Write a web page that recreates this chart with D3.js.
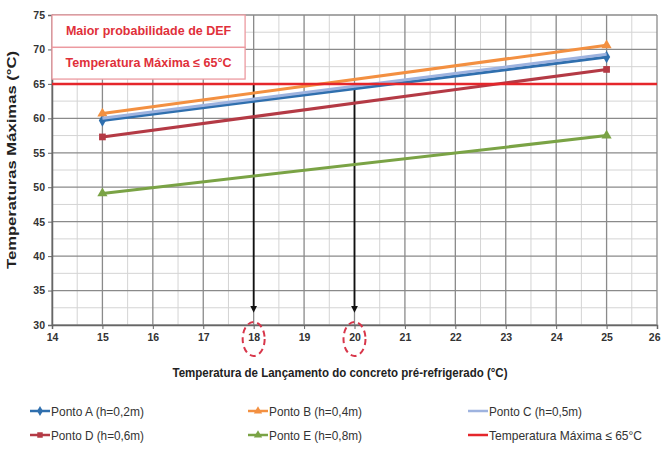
<!DOCTYPE html>
<html>
<head>
<meta charset="utf-8">
<script src="https://cdn.jsdelivr.net/npm/d3@7"></script>
<style>
  body { margin: 0; background: #fff; }
  svg { display: block; font-family: "Liberation Sans Narrow", "Arial Narrow", "Liberation Sans", sans-serif; }
  .tick text { font-weight: bold; fill: #333; }
</style>
</head>
<body>
<svg id="chart" width="661" height="449"></svg>
<script>
// launch temperatures with simulated results
var xs = [15, 25];
var pontoA = [59.7, 68.9];
var pontoB = [60.7, 70.6];
var pontoC = [60.0, 69.3];
var pontoD = [57.3, 67.1];
var pontoE = [49.1, 57.5];
var limiteX = [14, 26];
var limite = [65, 65];
var setas = [18, 20];
var xTicks = [14, 15, 16, 17, 18, 19, 20, 21, 22, 23, 24, 25, 26];
var yTicks = [30, 35, 40, 45, 50, 55, 60, 65, 70, 75];

var series = [
  { name: 'Ponto A (h=0,2m)', vals: pontoA, color: '#2f6fae', marker: 'diamond' },
  { name: 'Ponto B (h=0,4m)', vals: pontoB, color: '#f39041', marker: 'triangle' },
  { name: 'Ponto C (h=0,5m)', vals: pontoC, color: '#9eb3df', marker: 'none' },
  { name: 'Ponto D (h=0,6m)', vals: pontoD, color: '#b43a45', marker: 'square' },
  { name: 'Ponto E (h=0,8m)', vals: pontoE, color: '#7aa345', marker: 'triangle' },
  { name: 'Temperatura Máxima ≤ 65°C', vals: limite, color: '#e5262b', marker: 'none', xv: limiteX }
];

var svg = d3.select('#chart');
var mL = 52, mR = 657, mT = 15, mB = 325;

var x = d3.scaleLinear().domain([14, 26]).range([mL, mR]);
var y = d3.scaleLinear().domain([30, 75]).range([mB, mT]);

function symOf(m) {
  return m === 'diamond' ? d3.symbolDiamond : m === 'square' ? d3.symbolSquare : d3.symbolTriangle;
}

// minor grid
var g = svg.append('g');
g.selectAll('.vmin').data(d3.range(14.5, 26, 1)).enter().append('line')
  .attr('x1', d => x(d)).attr('x2', d => x(d)).attr('y1', mT).attr('y2', mB)
  .attr('stroke', '#d4d4d4').attr('stroke-width', 1);
g.selectAll('.hmin').data(d3.range(32.5, 75, 5)).enter().append('line')
  .attr('x1', mL).attr('x2', mR).attr('y1', d => y(d)).attr('y2', d => y(d))
  .attr('stroke', '#d4d4d4').attr('stroke-width', 1);
// major grid
g.selectAll('.vmaj').data(xTicks).enter().append('line')
  .attr('x1', d => x(d)).attr('x2', d => x(d)).attr('y1', mT).attr('y2', mB)
  .attr('stroke', '#8a8a8a').attr('stroke-width', 1.3);
g.selectAll('.hmaj').data(yTicks).enter().append('line')
  .attr('x1', mL).attr('x2', mR).attr('y1', d => y(d)).attr('y2', d => y(d))
  .attr('stroke', '#8a8a8a').attr('stroke-width', 1.3);

// axes
var xAxis = svg.append('g').attr('transform', 'translate(0,' + mB + ')')
  .call(d3.axisBottom(x).tickValues(xTicks).tickSize(4).tickFormat(d3.format('d')));
var yAxis = svg.append('g').attr('transform', 'translate(' + mL + ',0)')
  .call(d3.axisLeft(y).tickValues(yTicks).tickSize(4).tickFormat(d3.format('d')));
[xAxis, yAxis].forEach(function (a) {
  a.select('.domain').attr('stroke', '#666').attr('stroke-width', 1.5);
  a.selectAll('.tick line').attr('stroke', '#666');
  a.selectAll('.tick text').attr('font-size', 10.5);
});
xAxis.selectAll('.tick text').attr('dy', '0.9em');
xAxis.selectAll('.tick').filter(d => d === 26).select('text').attr('text-anchor', 'end').attr('dx', 3);

// annotation boxes
var boxes = [
  { text: 'Maior probabilidade de DEF', y0: 75, y1: 70.3 },
  { text: 'Temperatura Máxima ≤ 65°C', y0: 70.3, y1: 65.7 }
];
var bx = svg.append('g');
boxes.forEach(function (b) {
  bx.append('rect')
    .attr('x', x(14)).attr('y', y(b.y0))
    .attr('width', x(17.83) - x(14)).attr('height', y(b.y1) - y(b.y0))
    .attr('fill', '#fff').attr('stroke', '#ec9aa0').attr('stroke-width', 1.3);
  bx.append('text')
    .attr('x', (x(14) + x(17.83)) / 2).attr('y', (y(b.y0) + y(b.y1)) / 2 + 4)
    .attr('text-anchor', 'middle').attr('fill', '#e0303a')
    .attr('font-weight', 'bold').attr('font-size', 12.5)
    .style('font-family', '"Liberation Sans", sans-serif')
    .text(b.text);
});

// arrows from limit line down to axis
svg.append('defs').append('marker')
  .attr('id', 'head').attr('viewBox', '0 0 10 10').attr('refX', 5).attr('refY', 5)
  .attr('markerWidth', 4).attr('markerHeight', 4).attr('orient', 'auto')
  .append('path').attr('d', 'M0,0L10,5L0,10z').attr('fill', '#111');
svg.selectAll('.seta').data(setas).enter().append('line')
  .attr('x1', d => x(d)).attr('x2', d => x(d))
  .attr('y1', y(65)).attr('y2', y(32.3))
  .attr('stroke', '#111').attr('stroke-width', 1.8)
  .attr('marker-end', 'url(#head)');
svg.selectAll('.circ').data(setas).enter().append('ellipse')
  .attr('cx', d => x(d)).attr('cy', mB + 14).attr('rx', 11).attr('ry', 17)
  .attr('fill', 'none').attr('stroke', '#d8364a').attr('stroke-width', 2)
  .attr('stroke-dasharray', '6,4');

// series lines
var line = d3.line().x(d => x(d[0])).y(d => y(d[1]));
var plot = svg.append('g');
series.forEach(function (s) {
  var pts = (s.xv || xs).map((v, i) => [v, s.vals[i]]);
  plot.append('path').datum(pts).attr('d', line)
    .attr('fill', 'none').attr('stroke', s.color)
    .attr('stroke-width', s.xv ? 2.5 : 3);
  if (s.marker === 'none') return;
  plot.selectAll(null).data(pts).enter().append('path')
    .attr('d', d3.symbol().type(symOf(s.marker)).size(45))
    .attr('transform', d => 'translate(' + x(d[0]) + ',' + y(d[1]) + ')')
    .attr('fill', s.color);
});

// axis titles
svg.append('text')
  .attr('transform', 'translate(16,' + 160 + ') rotate(-90)')
  .attr('text-anchor', 'middle').attr('font-weight', 'bold').attr('font-size', 13.5)
  .attr('textLength', 218).attr('lengthAdjust', 'spacingAndGlyphs')
  .style('font-family', '"Liberation Sans", sans-serif').attr('fill', '#222')
  .text('Temperaturas Máximas (°C)');
svg.append('text')
  .attr('x', 340).attr('y', 377)
  .attr('text-anchor', 'middle').attr('font-weight', 'bold').attr('font-size', 13.5)
  .attr('textLength', 335).attr('lengthAdjust', 'spacingAndGlyphs')
  .attr('fill', '#222')
  .text('Temperatura de Lançamento do concreto pré-refrigerado (°C)');

// legend
var legCols = [30, 248, 468];
var legRows = [411, 435];
var leg = svg.append('g');
series.forEach(function (s, i) {
  var lx = legCols[i % 3], ly = legRows[Math.floor(i / 3)];
  var it = leg.append('g').attr('transform', 'translate(' + lx + ',' + ly + ')');
  it.append('line').attr('x1', 0).attr('x2', 20).attr('y1', 0).attr('y2', 0)
    .attr('stroke', s.color).attr('stroke-width', 2.5);
  if (s.marker !== 'none') {
    it.append('path').attr('d', d3.symbol().type(symOf(s.marker)).size(30))
      .attr('transform', 'translate(10,0)').attr('fill', s.color);
  }
  it.append('text').attr('x', 21).attr('y', 4.5).attr('font-size', 13).attr('fill', '#333')
    .attr('textLength', s.xv ? 153 : 93).attr('lengthAdjust', 'spacingAndGlyphs')
    .text(s.name);
});
</script>
</body>
</html>
